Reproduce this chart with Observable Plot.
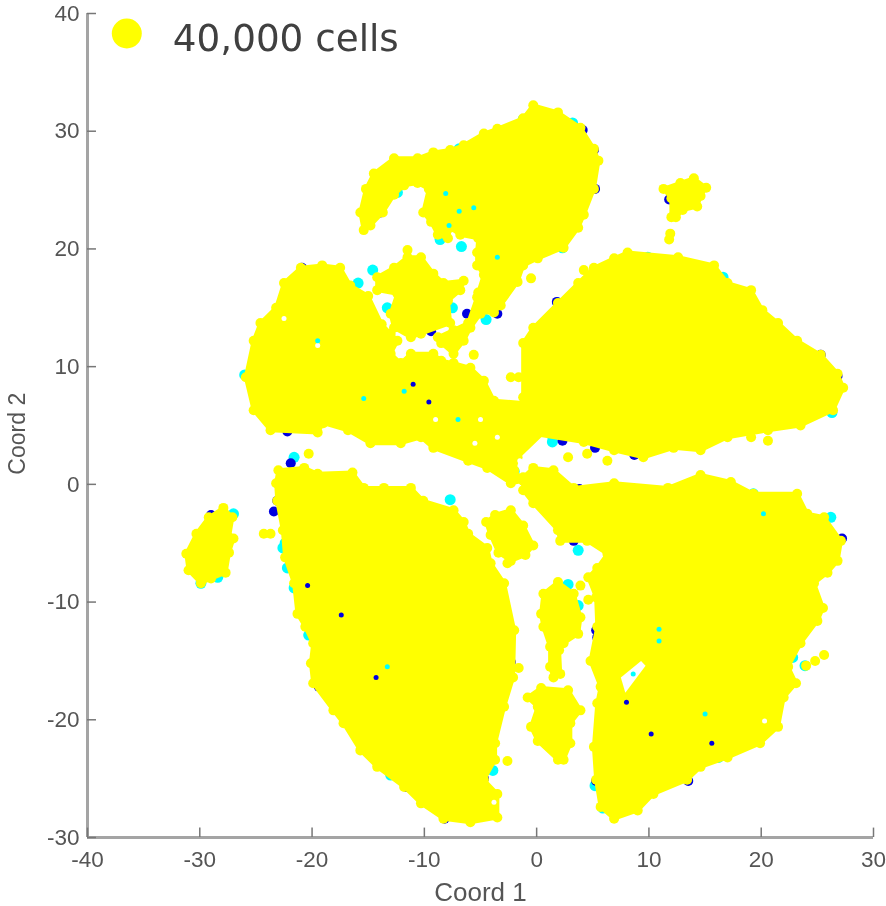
<!DOCTYPE html>
<html>
<head>
<meta charset="utf-8">
<script src="https://cdn.jsdelivr.net/npm/d3@7"></script>
<script src="https://cdn.jsdelivr.net/npm/@observablehq/plot@0.6"></script>
<style>html,body{margin:0;padding:0;background:#fff}</style>
</head>
<body>
<div id="chart"></div>
<script>
const xTicks = [-40,-30,-20,-10,0,10,20,30];
const yTicks = [-30,-20,-10,0,10,20,30,40];
const xLabel = "Coord 1";
const yLabel = "Coord 2";
const legendLabel = "40,000 cells";

const clusterTop = [[-0.3,32.2],[1.9,31.6],[3.9,30.3],[5.1,28.5],[5.5,27.5],[5.1,25.1],[4.2,22.9],[3.7,21.8],[2.4,20.1],[0.1,19.2],[-1.2,18.6],[-1.7,17.2],[-3.2,15.2],[-3.8,14.6],[-5.0,14.6],[-5.2,16.3],[-4.7,17.8],[-5.3,18.6],[-5.3,19.7],[-5.2,20.9],[-6.8,21.2],[-7.7,21.8],[-7.9,20.9],[-8.8,21.2],[-9.4,22.3],[-10.1,23.1],[-9.6,25.1],[-10.6,25.6],[-11.8,25.4],[-12.7,24.6],[-13.7,23.1],[-14.8,22.0],[-15.4,21.6],[-15.7,23.1],[-15.2,25.1],[-14.5,26.4],[-12.7,27.7],[-10.6,27.7],[-9.2,28.2],[-7.7,28.4],[-6.5,28.8],[-4.7,29.8],[-3.5,30.2],[-1.2,31.1]];
const clusterTopRight = [[11.3,25.1],[12.8,25.6],[14.0,26.0],[15.1,25.2],[14.6,24.5],[14.3,23.6],[13.0,23.3],[12.4,22.7],[12.0,22.7],[12.0,24.3]];
const clusterRight = [[8.1,19.7],[12.6,19.3],[15.8,18.6],[17.0,17.1],[19.1,16.5],[20.1,14.8],[21.5,13.7],[23.2,12.2],[25.3,11.0],[26.8,9.4],[27.3,8.2],[26.4,6.3],[23.5,5.0],[20.6,4.6],[17.0,4.0],[14.6,2.9],[12.2,3.1],[9.5,2.3],[6.9,2.9],[4.2,3.6],[-0.3,4.3],[-1.2,7.4],[-1.2,12.0],[-0.3,13.3],[1.9,15.4],[3.7,17.1],[5.1,18.4],[6.9,19.2]];
const clusterLeft = [[-21.0,18.4],[-19.1,18.6],[-17.5,18.4],[-16.6,16.9],[-15.0,16.0],[-13.8,13.6],[-13.0,12.8],[-12.4,12.2],[-13.0,11.1],[-12.1,10.3],[-11.2,11.1],[-9.2,11.1],[-8.5,10.5],[-7.4,10.3],[-5.9,9.9],[-4.7,8.8],[-3.8,7.1],[-1.0,6.9],[0.8,4.6],[-1.7,2.3],[-2.0,1.2],[-1.2,0.3],[-2.3,0.1],[-4.4,1.4],[-6.1,2.0],[-9.2,3.1],[-10.3,4.0],[-12.1,3.5],[-14.8,3.5],[-16.8,4.6],[-19.0,5.2],[-19.5,4.4],[-23.7,4.6],[-25.2,6.3],[-25.9,9.1],[-25.2,12.2],[-24.6,13.7],[-23.2,15.0],[-22.5,17.1]];
const clusterMidTop = [[-11.5,19.3],[-10.3,19.3],[-9.2,17.9],[-8.3,17.1],[-6.5,17.3],[-6.8,16.5],[-7.9,15.6],[-7.7,13.7],[-10.3,12.8],[-11.2,12.5],[-12.7,13.3],[-13.0,14.5],[-12.4,16.2],[-14.2,16.5],[-14.2,17.6],[-12.7,18.4]];
const clusterStrand = [[-5.3,15.9],[-5.0,14.5],[-5.9,13.3],[-6.5,12.2],[-7.4,11.1],[-8.5,12.0],[-8.8,12.5],[-7.4,13.1],[-6.1,13.7]];
const clusterLowerLeft = [[-23.0,1.2],[-20.7,1.4],[-19.5,0.9],[-16.4,1.0],[-15.4,-0.3],[-13.6,-0.3],[-11.2,-0.3],[-10.1,-1.4],[-7.4,-2.2],[-6.5,-3.2],[-6.1,-4.2],[-4.4,-5.4],[-4.1,-6.7],[-2.9,-8.4],[-2.0,-12.4],[-2.1,-16.4],[-2.9,-18.9],[-3.7,-22.0],[-3.7,-23.4],[-4.7,-25.1],[-3.5,-26.3],[-3.5,-28.3],[-5.9,-28.7],[-8.3,-28.4],[-10.3,-27.1],[-11.8,-25.7],[-14.2,-24.0],[-15.7,-22.6],[-17.2,-20.3],[-18.1,-19.2],[-19.9,-16.9],[-20.1,-15.2],[-19.9,-13.5],[-20.6,-12.1],[-21.3,-11.0],[-21.6,-8.4],[-22.4,-6.2],[-22.6,-3.9],[-23.1,-1.4],[-23.2,0.1]];
const clusterFarLeft = [[-27.9,-2.0],[-27.1,-2.8],[-27.4,-4.5],[-27.0,-4.6],[-27.4,-5.8],[-27.7,-7.5],[-29.0,-8.0],[-29.9,-8.4],[-31.0,-7.3],[-31.2,-5.9],[-30.3,-4.2],[-29.2,-2.8]];
const clusterSmallCentre = [[-3.7,-2.6],[-2.3,-2.2],[-1.2,-3.5],[-0.3,-5.2],[-1.0,-6.0],[-2.3,-6.5],[-3.4,-5.8],[-4.1,-4.3],[-4.5,-3.2]];
const clusterDrop = [[1.9,-8.3],[3.3,-9.3],[3.9,-11.3],[3.7,-12.7],[2.4,-13.5],[2.0,-14.1],[2.1,-16.1],[1.5,-16.4],[1.2,-15.5],[1.2,-13.8],[0.6,-12.1],[0.4,-11.0],[0.6,-9.3]];
const clusterBottomCentre = [[0.4,-17.3],[2.8,-17.5],[3.9,-19.2],[3.0,-20.3],[3.0,-22.0],[2.4,-23.4],[1.9,-23.4],[0.1,-21.8],[-0.5,-20.6],[0.1,-18.9],[-0.8,-18.1]];
const clusterLowerRight = [[-1.2,0.6],[-0.3,1.4],[1.5,1.2],[3.3,-0.3],[6.9,0.1],[11.7,-0.3],[14.6,0.8],[17.3,0.2],[19.3,-0.8],[23.2,-0.8],[24.1,-2.5],[25.6,-2.8],[27.1,-4.8],[26.8,-6.5],[25.9,-7.5],[24.7,-8.4],[25.5,-10.5],[25.0,-11.6],[23.5,-13.5],[22.4,-15.5],[23.1,-16.9],[22.0,-18.1],[21.5,-20.6],[19.9,-22.0],[17.0,-23.2],[14.6,-24.0],[13.4,-25.1],[10.4,-26.3],[9.0,-27.7],[6.9,-28.4],[5.7,-27.4],[5.3,-25.1],[5.1,-22.3],[5.4,-18.6],[5.7,-17.2],[4.8,-15.0],[5.4,-12.1],[5.3,-9.6],[4.6,-7.9],[5.4,-7.1],[6.3,-5.9],[4.5,-4.8],[2.1,-4.8],[1.9,-3.9],[-0.3,-1.6],[-1.2,-0.5]];
const holeLowerRight = [[7.5,-16.4],[9.3,-15.0],[9.7,-15.4],[7.9,-17.7]];

const strayYellow = [[-20.3,2.6],[-24.3,-4.2],[-23.7,-4.2],[-2.6,-6.7],[-1.6,-15.6],[-2.6,-23.5],[2.8,2.3],[4.5,2.6],[6.3,2.0],[19.1,4.0],[20.6,3.7],[-2.3,9.1],[-1.6,9.1],[-11.5,19.9],[-0.5,17.5],[4.2,18.2],[-5.6,11.0],[11.9,21.3],[11.8,20.8],[24.8,-15.0],[25.6,-14.5],[24.0,-15.4],[3.9,-8.6],[4.6,-9.8]];
const edgeCyan = [[-14.6,18.2],[-15.9,17.1],[-13.3,15.0],[-15.1,15.4],[-12.1,13.5],[-6.7,20.2],[-8.6,20.8],[-17.5,5.3],[-21.6,2.3],[-7.7,-1.3],[1.4,3.6],[1.4,4.1],[-2.0,1.1],[-7.5,15.0],[-4.5,14.0],[22.8,-14.7],[23.9,-15.4],[16.2,-23.2],[5.2,-25.6],[5.9,-27.5],[19.3,-0.8],[3.7,-5.6],[2.8,-8.5],[3.7,-10.3],[-22.6,-5.4],[-22.4,-5.0],[-22.2,-7.1],[-21.6,-8.8],[-20.3,-12.8],[-3.9,-24.3],[-13.0,-24.7],[-28.4,-7.9],[-29.9,-8.4],[-26.0,9.3],[3.2,30.7],[-1.2,31.0],[-6.9,28.5],[-27.0,-2.5],[20.7,5.4],[26.2,-2.8],[24.8,-9.9],[26.3,6.1],[1.9,15.4],[9.9,19.3],[16.6,17.6],[2.3,20.1],[-12.4,24.8]];
const edgeBlue = [[-6.2,14.5],[-9.6,13.3],[-9.4,13.0],[-8.6,3.3],[-22.2,4.5],[-20.9,18.4],[3.8,-0.4],[3.3,-4.8],[5.4,-13.0],[5.3,-12.4],[27.2,-4.6],[5.3,-25.2],[-2.3,-15.1],[-29.0,-2.6],[11.8,24.2],[25.3,11.0],[26.8,9.2],[5.2,25.1],[5.1,28.4],[4.1,30.1],[5.2,3.1],[2.3,3.7],[8.7,2.5],[1.8,15.5],[-21.9,1.8],[-23.4,-2.3],[-23.1,-1.4],[-19.4,-17.2],[-11.6,-25.7],[-8.2,-28.4],[-4.7,-25.0],[-13.9,23.1],[-3.5,14.5],[13.5,-25.2]];
const innerCyan = [[-15.4,7.3],[-11.8,7.9],[20.2,-2.5],[10.9,-13.3],[10.9,-12.3],[8.6,-16.1],[-19.5,12.2],[-13.3,-15.5],[-8.1,24.7],[-6.9,23.2],[-5.6,23.5],[-7.8,22.0],[-3.5,19.3],[15.0,-19.5],[-7.0,5.5]];
const innerBlue = [[-11.0,8.5],[-9.6,7.0],[10.2,-21.2],[15.6,-22.0],[8.0,-18.5],[-14.3,-16.4],[-20.4,-8.6],[-17.4,-11.1]];
const smallGaps = [[-22.5,14.1],[-19.5,11.8],[20.3,-20.1],[-9.0,5.5],[-5.0,5.5],[-3.5,4.0],[-1.5,2.0],[-5.5,3.5],[-3.8,-27.0]];

const clusters = [clusterTop, clusterTopRight, clusterRight, clusterLeft, clusterMidTop, clusterStrand, clusterLowerLeft, clusterFarLeft, clusterSmallCentre, clusterDrop, clusterBottomCentre, clusterLowerRight];

const X = d => d[0], Y = d => d[1];
const yellow = "#ffff00", cyan = "#00ffff", blue = "#0000e0", axisColor = "#a4a4a4", textColor = "#555";

const plot = Plot.plot({
  width: 886, height: 906,
  marginLeft: 87, marginRight: 13, marginTop: 13, marginBottom: 69,
  x: {domain: [-40, 30]},
  y: {domain: [-30, 40]},
  style: {fontFamily: "Liberation Sans, sans-serif", background: "#fff"},
  marks: [
    Plot.dot(edgeCyan, {x: X, y: Y, r: 5.5, fill: cyan}),
    Plot.dot(edgeBlue, {x: X, y: Y, r: 5, fill: blue}),
    ...clusters.flatMap(c => [
      Plot.line(c, {x: X, y: Y, curve: "linear-closed", fill: yellow, stroke: yellow, strokeWidth: 4}),
      Plot.dot(c, {x: X, y: Y, r: 5, fill: yellow})
    ]),
    Plot.line(holeLowerRight, {x: X, y: Y, curve: "linear-closed", fill: "#fff", stroke: "none"}),
    Plot.dot(smallGaps, {x: X, y: Y, r: 2.5, fill: "#fff"}),
    Plot.dot(innerCyan, {x: X, y: Y, r: 2.5, fill: cyan}),
    Plot.dot(innerBlue, {x: X, y: Y, r: 2.5, fill: blue}),
    Plot.dot(strayYellow, {x: X, y: Y, r: 5, fill: yellow}),
    Plot.ruleX([-40], {stroke: axisColor, strokeWidth: 3}),
    Plot.ruleY([-30], {stroke: axisColor, strokeWidth: 3}),
    Plot.ruleX(xTicks, {y1: -30, y2: -29.2, stroke: "#777", strokeWidth: 1.5}),
    Plot.ruleY(yTicks, {x1: -40, x2: -39.2, stroke: "#777", strokeWidth: 1.5}),
    Plot.axisX(xTicks, {anchor: "bottom", tickSize: 0, tickPadding: 14, fontSize: 22.5, fill: textColor, label: null, tickFormat: d => String(d)}),
    Plot.axisY(yTicks, {anchor: "left", tickSize: 0, tickPadding: 8, fontSize: 22.5, fill: textColor, label: null, tickFormat: d => String(d)}),
    Plot.text([xLabel], {x: -5, y: -34.7, text: d => d, fontSize: 26, fill: textColor}),
    Plot.text([yLabel], {x: -46.2, y: 4.3, text: d => d, rotate: -90, fontSize: 23, fill: textColor}),
    Plot.dot([[-36.5, 38.3]], {x: X, y: Y, r: 15, fill: yellow}),
    Plot.text([legendLabel], {x: -32.4, y: 37.8, text: d => d, textAnchor: "start", fontSize: 37.3, fontFamily: "DejaVu Sans", fill: "#404040"})
  ]
});
plot.style.filter = "blur(0.7px)";
document.getElementById("chart").appendChild(plot);
</script>
</body>
</html>
